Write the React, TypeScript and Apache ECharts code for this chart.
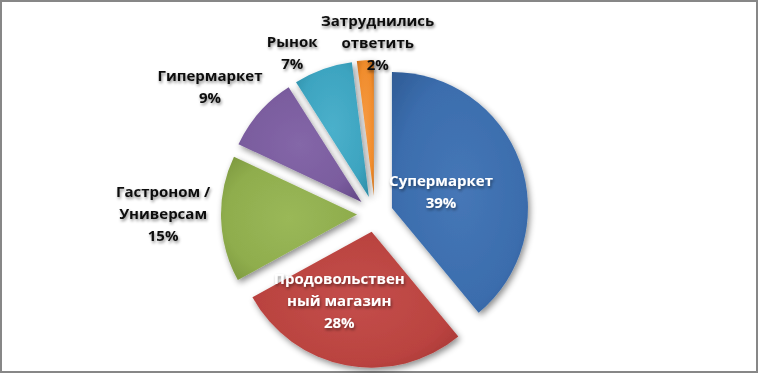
import React, { useEffect, useRef } from "react";
import * as echarts from "echarts";

const categories = [
  "Супермаркет",
  "Продовольственный магазин",
  "Гастроном / Универсам",
  "Гипермаркет",
  "Рынок",
  "Затруднились ответить",
];
const labelTexts = [
  "Супермаркет",
  "Продовольствен\nный магазин",
  "Гастроном /\nУниверсам",
  "Гипермаркет",
  "Рынок",
  "Затруднились\nответить",
];
const values = [39, 28, 15, 9, 7, 2];
const baseColors = ["#3B6DAD", "#BA4340", "#8FAD4D", "#7A5C9E", "#3DA4C0", "#F08C2C"];
const lightColors = ["#4677B7", "#C44E4A", "#9AB858", "#8467A8", "#4BB0CB", "#F69A42"];
const darkColors = ["#2E5A93", "#9A302D", "#77923A", "#5F4582", "#2C8AA3", "#C86E1A"];
const outsideLabel = [false, false, true, true, true, true];
// small hand adjustments of label placement (pixels)
const labelNudge: [number, number][] = [[-13, 5], [-20, 3], [0, -6], [-6, -14], [-11, 0], [16, 0]];

const CX = 375;
const CY = 214;
const R = 136;
const OFFSET = 18;
const LABEL_RX = 194;
const LABEL_RY = 154;
const INNER_R = 66;

export default function App() {
  const ref = useRef<HTMLDivElement>(null);
  useEffect(() => {
    if (!ref.current) return;
    const chart = echarts.init(ref.current, undefined, { renderer: "svg" });
    const total = values.reduce((a, b) => a + b, 0);
    const mids: number[] = [];
    let cum = 0;
    values.forEach((v) => {
      mids.push(((cum + v / 2) / total) * Math.PI * 2);
      cum += v;
    });
    const data = values.map((v, i) => ({
      name: categories[i],
      value: v,
      selected: true,
      itemStyle: {
        color: new echarts.graphic.RadialGradient(0.5, 0.5, 0.72, [
          { offset: 0, color: lightColors[i] },
          { offset: 0.65, color: baseColors[i] },
          { offset: 1, color: darkColors[i] },
        ]),
      },
    }));
    const labels = values.map((v, i) => {
      const a = mids[i];
      const dx = Math.sin(a);
      const dy = -Math.cos(a);
      const rx = outsideLabel[i] ? LABEL_RX : INNER_R;
      const ry = outsideLabel[i] ? LABEL_RY : INNER_R;
      return {
        type: "text",
        z: 10,
        x: CX + OFFSET * dx + rx * dx + labelNudge[i][0],
        y: CY + OFFSET * dy + ry * dy + labelNudge[i][1],
        style: {
          text: labelTexts[i] + "\n" + v + "%",
          align: "center",
          verticalAlign: "middle",
          fontFamily: "Open Sans",
          fontWeight: "bold",
          fontSize: 15,
          lineHeight: 22,
          fill: outsideLabel[i] ? "#111" : "#fff",
          textShadowColor: "rgba(0,0,0,0.45)",
          textShadowBlur: 3,
          textShadowOffsetX: 1,
          textShadowOffsetY: 2,
        },
      };
    });
    chart.setOption({
      animation: false,
      series: [
        {
          type: "pie",
          center: [CX, CY],
          radius: [0, R],
          startAngle: 90,
          clockwise: true,
          selectedMode: "multiple",
          selectedOffset: OFFSET,
          avoidLabelOverlap: false,
          data,
          itemStyle: {
            shadowBlur: 6,
            shadowColor: "rgba(0,0,0,0.45)",
            shadowOffsetX: 2,
            shadowOffsetY: 3,
          },
          select: { itemStyle: {} },
          emphasis: { disabled: true },
          label: { show: false },
          labelLine: { show: false },
        },
      ],
      graphic: labels,
    });
    return () => chart.dispose();
  }, []);
  return (
    <div
      style={{
        position: "absolute",
        left: 0,
        top: 0,
        width: 758,
        height: 373,
        boxSizing: "border-box",
        border: "2px solid #878787",
        background: "#fff",
      }}
    >
      <div ref={ref} style={{ position: "absolute", left: -2, top: -2, width: 758, height: 373 }} />
    </div>
  );
}
